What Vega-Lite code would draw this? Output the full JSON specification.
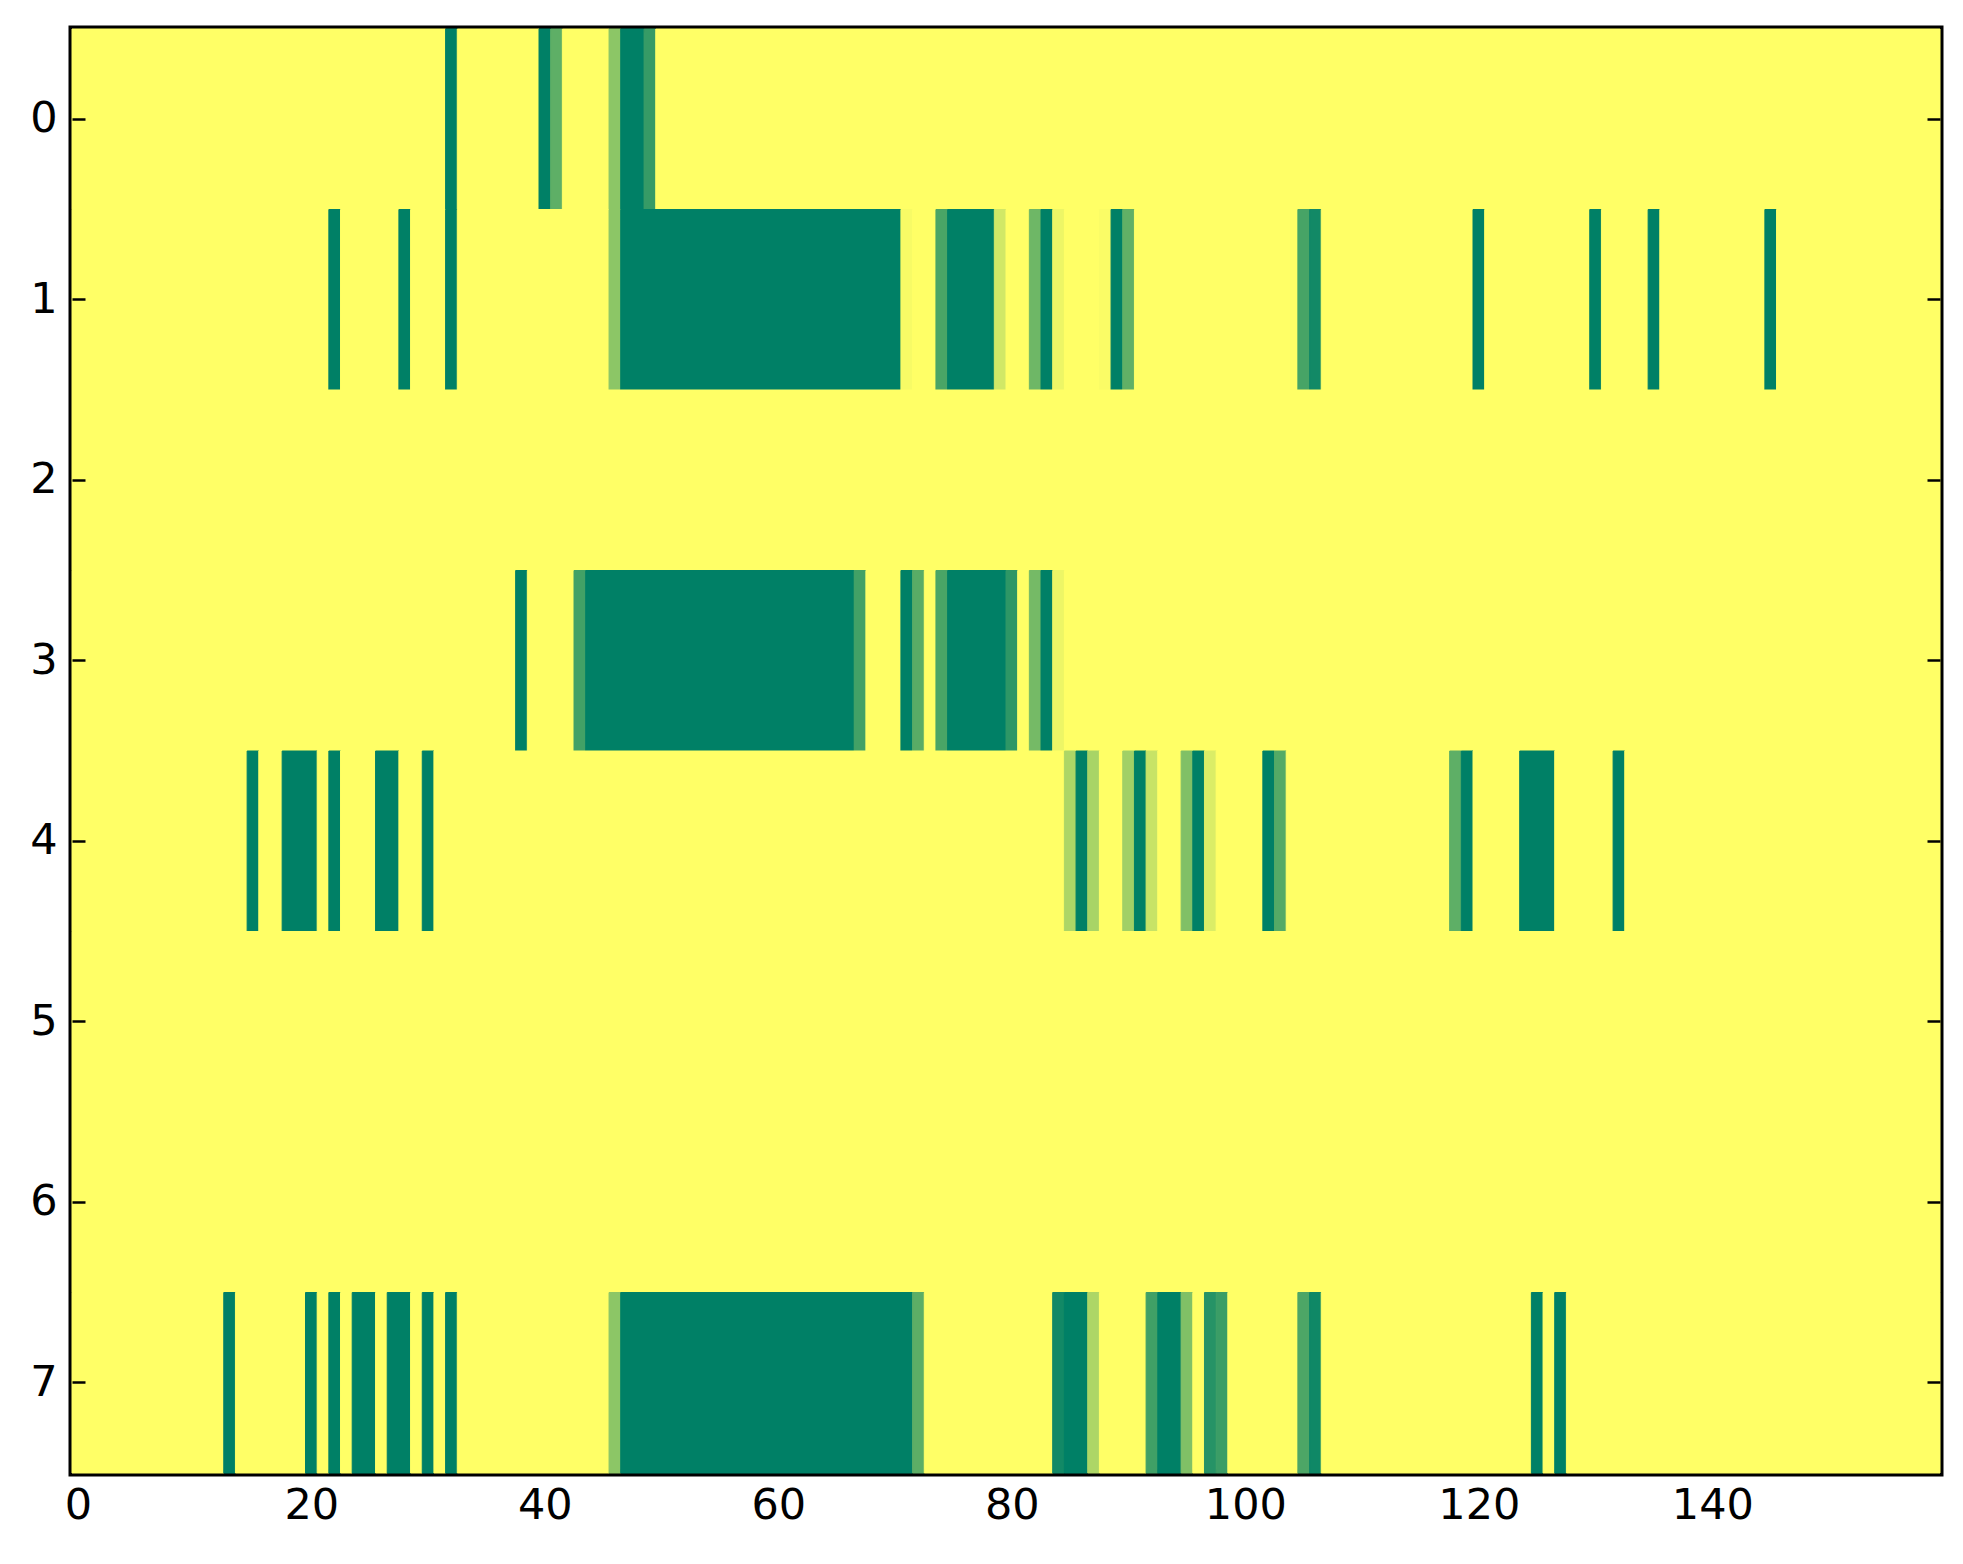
{
  "$schema": "https://vega.github.io/schema/vega-lite/v6.json",
  "width": 1868,
  "height": 1444,
  "autosize": "none",
  "padding": {"left": 72, "top": 29, "right": 23, "bottom": 91},
  "background": "white",
  "view": {"stroke": "black", "strokeWidth": 7},
  "config": {
    "axis": {
      "labelFont": "DejaVu Sans",
      "labelFontSize": 43,
      "labelColor": "black",
      "tickColor": "black",
      "tickWidth": 2.5,
      "tickSize": -13,
      "domain": false,
      "grid": false,
      "title": null
    }
  },
  "data": {
    "values": [
      {"row": 0, "start": -0.5, "end": 31.5, "value": 0},
      {"row": 0, "start": 31.5, "end": 32.5, "value": 1},
      {"row": 0, "start": 32.5, "end": 39.5, "value": 0},
      {"row": 0, "start": 39.5, "end": 40.5, "value": 1},
      {"row": 0, "start": 40.5, "end": 41.5, "value": 0.63},
      {"row": 0, "start": 41.5, "end": 45.5, "value": 0},
      {"row": 0, "start": 45.5, "end": 46.5, "value": 0.45},
      {"row": 0, "start": 46.5, "end": 48.5, "value": 1},
      {"row": 0, "start": 48.5, "end": 49.5, "value": 0.79},
      {"row": 0, "start": 49.5, "end": 159.5, "value": 0},

      {"row": 1, "start": -0.5, "end": 21.5, "value": 0},
      {"row": 1, "start": 21.5, "end": 22.5, "value": 1},
      {"row": 1, "start": 22.5, "end": 27.5, "value": 0},
      {"row": 1, "start": 27.5, "end": 28.5, "value": 1},
      {"row": 1, "start": 28.5, "end": 31.5, "value": 0},
      {"row": 1, "start": 31.5, "end": 32.5, "value": 1},
      {"row": 1, "start": 32.5, "end": 45.5, "value": 0},
      {"row": 1, "start": 45.5, "end": 46.5, "value": 0.45},
      {"row": 1, "start": 46.5, "end": 70.5, "value": 1},
      {"row": 1, "start": 70.5, "end": 71.5, "value": 0.03},
      {"row": 1, "start": 71.5, "end": 73.5, "value": 0},
      {"row": 1, "start": 73.5, "end": 74.5, "value": 0.71},
      {"row": 1, "start": 74.5, "end": 78.5, "value": 1},
      {"row": 1, "start": 78.5, "end": 79.5, "value": 0.18},
      {"row": 1, "start": 79.5, "end": 81.5, "value": 0},
      {"row": 1, "start": 81.5, "end": 82.5, "value": 0.57},
      {"row": 1, "start": 82.5, "end": 83.5, "value": 1},
      {"row": 1, "start": 83.5, "end": 84.5, "value": 0.07},
      {"row": 1, "start": 84.5, "end": 87.5, "value": 0},
      {"row": 1, "start": 87.5, "end": 88.5, "value": 0.02},
      {"row": 1, "start": 88.5, "end": 89.5, "value": 1},
      {"row": 1, "start": 89.5, "end": 90.5, "value": 0.62},
      {"row": 1, "start": 90.5, "end": 104.5, "value": 0},
      {"row": 1, "start": 104.5, "end": 105.5, "value": 0.72},
      {"row": 1, "start": 105.5, "end": 106.5, "value": 0.93},
      {"row": 1, "start": 106.5, "end": 119.5, "value": 0},
      {"row": 1, "start": 119.5, "end": 120.5, "value": 1},
      {"row": 1, "start": 120.5, "end": 129.5, "value": 0},
      {"row": 1, "start": 129.5, "end": 130.5, "value": 1},
      {"row": 1, "start": 130.5, "end": 134.5, "value": 0},
      {"row": 1, "start": 134.5, "end": 135.5, "value": 1},
      {"row": 1, "start": 135.5, "end": 144.5, "value": 0},
      {"row": 1, "start": 144.5, "end": 145.5, "value": 1},
      {"row": 1, "start": 145.5, "end": 159.5, "value": 0},

      {"row": 2, "start": -0.5, "end": 159.5, "value": 0},

      {"row": 3, "start": -0.5, "end": 37.5, "value": 0},
      {"row": 3, "start": 37.5, "end": 38.5, "value": 1},
      {"row": 3, "start": 38.5, "end": 42.5, "value": 0},
      {"row": 3, "start": 42.5, "end": 43.5, "value": 0.74},
      {"row": 3, "start": 43.5, "end": 66.5, "value": 1},
      {"row": 3, "start": 66.5, "end": 67.5, "value": 0.74},
      {"row": 3, "start": 67.5, "end": 70.5, "value": 0},
      {"row": 3, "start": 70.5, "end": 71.5, "value": 1},
      {"row": 3, "start": 71.5, "end": 72.5, "value": 0.65},
      {"row": 3, "start": 72.5, "end": 73.5, "value": 0},
      {"row": 3, "start": 73.5, "end": 74.5, "value": 0.71},
      {"row": 3, "start": 74.5, "end": 79.5, "value": 1},
      {"row": 3, "start": 79.5, "end": 80.5, "value": 0.82},
      {"row": 3, "start": 80.5, "end": 81.5, "value": 0},
      {"row": 3, "start": 81.5, "end": 82.5, "value": 0.54},
      {"row": 3, "start": 82.5, "end": 83.5, "value": 1},
      {"row": 3, "start": 83.5, "end": 84.5, "value": 0.07},
      {"row": 3, "start": 84.5, "end": 159.5, "value": 0},

      {"row": 4, "start": -0.5, "end": 14.5, "value": 0},
      {"row": 4, "start": 14.5, "end": 15.5, "value": 1},
      {"row": 4, "start": 15.5, "end": 17.5, "value": 0},
      {"row": 4, "start": 17.5, "end": 20.5, "value": 1},
      {"row": 4, "start": 20.5, "end": 21.5, "value": 0},
      {"row": 4, "start": 21.5, "end": 22.5, "value": 1},
      {"row": 4, "start": 22.5, "end": 25.5, "value": 0},
      {"row": 4, "start": 25.5, "end": 27.5, "value": 1},
      {"row": 4, "start": 27.5, "end": 29.5, "value": 0},
      {"row": 4, "start": 29.5, "end": 30.5, "value": 1},
      {"row": 4, "start": 30.5, "end": 84.5, "value": 0},
      {"row": 4, "start": 84.5, "end": 85.5, "value": 0.32},
      {"row": 4, "start": 85.5, "end": 86.5, "value": 1},
      {"row": 4, "start": 86.5, "end": 87.5, "value": 0.34},
      {"row": 4, "start": 87.5, "end": 89.5, "value": 0},
      {"row": 4, "start": 89.5, "end": 90.5, "value": 0.37},
      {"row": 4, "start": 90.5, "end": 91.5, "value": 1},
      {"row": 4, "start": 91.5, "end": 92.5, "value": 0.22},
      {"row": 4, "start": 92.5, "end": 94.5, "value": 0},
      {"row": 4, "start": 94.5, "end": 95.5, "value": 0.5},
      {"row": 4, "start": 95.5, "end": 96.5, "value": 1},
      {"row": 4, "start": 96.5, "end": 97.5, "value": 0.14},
      {"row": 4, "start": 97.5, "end": 101.5, "value": 0},
      {"row": 4, "start": 101.5, "end": 102.5, "value": 1},
      {"row": 4, "start": 102.5, "end": 103.5, "value": 0.67},
      {"row": 4, "start": 103.5, "end": 117.5, "value": 0},
      {"row": 4, "start": 117.5, "end": 118.5, "value": 0.63},
      {"row": 4, "start": 118.5, "end": 119.5, "value": 1},
      {"row": 4, "start": 119.5, "end": 123.5, "value": 0},
      {"row": 4, "start": 123.5, "end": 126.5, "value": 1},
      {"row": 4, "start": 126.5, "end": 131.5, "value": 0},
      {"row": 4, "start": 131.5, "end": 132.5, "value": 1},
      {"row": 4, "start": 132.5, "end": 159.5, "value": 0},

      {"row": 5, "start": -0.5, "end": 159.5, "value": 0},
      {"row": 6, "start": -0.5, "end": 159.5, "value": 0},

      {"row": 7, "start": -0.5, "end": 12.5, "value": 0},
      {"row": 7, "start": 12.5, "end": 13.5, "value": 1},
      {"row": 7, "start": 13.5, "end": 19.5, "value": 0},
      {"row": 7, "start": 19.5, "end": 20.5, "value": 1},
      {"row": 7, "start": 20.5, "end": 21.5, "value": 0},
      {"row": 7, "start": 21.5, "end": 22.5, "value": 1},
      {"row": 7, "start": 22.5, "end": 23.5, "value": 0},
      {"row": 7, "start": 23.5, "end": 25.5, "value": 1},
      {"row": 7, "start": 25.5, "end": 26.5, "value": 0},
      {"row": 7, "start": 26.5, "end": 28.5, "value": 1},
      {"row": 7, "start": 28.5, "end": 29.5, "value": 0},
      {"row": 7, "start": 29.5, "end": 30.5, "value": 1},
      {"row": 7, "start": 30.5, "end": 31.5, "value": 0},
      {"row": 7, "start": 31.5, "end": 32.5, "value": 1},
      {"row": 7, "start": 32.5, "end": 45.5, "value": 0},
      {"row": 7, "start": 45.5, "end": 46.5, "value": 0.45},
      {"row": 7, "start": 46.5, "end": 71.5, "value": 1},
      {"row": 7, "start": 71.5, "end": 72.5, "value": 0.64},
      {"row": 7, "start": 72.5, "end": 83.5, "value": 0},
      {"row": 7, "start": 83.5, "end": 84.5, "value": 0.93},
      {"row": 7, "start": 84.5, "end": 86.5, "value": 1},
      {"row": 7, "start": 86.5, "end": 87.5, "value": 0.32},
      {"row": 7, "start": 87.5, "end": 91.5, "value": 0},
      {"row": 7, "start": 91.5, "end": 92.5, "value": 0.75},
      {"row": 7, "start": 92.5, "end": 94.5, "value": 1},
      {"row": 7, "start": 94.5, "end": 95.5, "value": 0.5},
      {"row": 7, "start": 95.5, "end": 96.5, "value": 0},
      {"row": 7, "start": 96.5, "end": 97.5, "value": 0.85},
      {"row": 7, "start": 97.5, "end": 98.5, "value": 0.77},
      {"row": 7, "start": 98.5, "end": 104.5, "value": 0},
      {"row": 7, "start": 104.5, "end": 105.5, "value": 0.7},
      {"row": 7, "start": 105.5, "end": 106.5, "value": 0.94},
      {"row": 7, "start": 106.5, "end": 124.5, "value": 0},
      {"row": 7, "start": 124.5, "end": 125.5, "value": 1},
      {"row": 7, "start": 125.5, "end": 126.5, "value": 0},
      {"row": 7, "start": 126.5, "end": 127.5, "value": 1},
      {"row": 7, "start": 127.5, "end": 159.5, "value": 0}
    ]
  },
  "layer": [
    {
      "mark": {"type": "rect", "strokeWidth": 1},
      "encoding": {
        "x": {
          "field": "start",
          "type": "quantitative",
          "scale": {"domain": [-0.5, 159.5], "nice": false, "zero": false},
          "axis": {"orient": "bottom", "values": [0, 20, 40, 60, 80, 100, 120, 140], "labelPadding": 24}
        },
        "x2": {"field": "end"},
        "y": {
          "field": "row",
          "type": "ordinal",
          "scale": {"paddingInner": 0, "paddingOuter": 0},
          "axis": {"orient": "left", "labelPadding": 28}
        },
        "fill": {
          "field": "value",
          "type": "quantitative",
          "scale": {"domain": [0, 1], "range": ["#ffff66", "#008066"], "interpolate": "rgb"},
          "legend": null
        },
        "stroke": {
          "field": "value",
          "type": "quantitative",
          "scale": {"domain": [0, 1], "range": ["#ffff66", "#008066"], "interpolate": "rgb"},
          "legend": null
        }
      }
    },
    {
      "mark": {"type": "rect", "opacity": 0},
      "encoding": {
        "x": {
          "field": "start",
          "type": "quantitative",
          "axis": {"orient": "top", "values": [0, 20, 40, 60, 80, 100, 120, 140], "labels": false}
        },
        "x2": {"field": "end"},
        "y": {
          "field": "row",
          "type": "ordinal",
          "axis": {"orient": "right", "labels": false}
        }
      }
    }
  ],
  "resolve": {"axis": {"x": "independent", "y": "independent"}}
}
